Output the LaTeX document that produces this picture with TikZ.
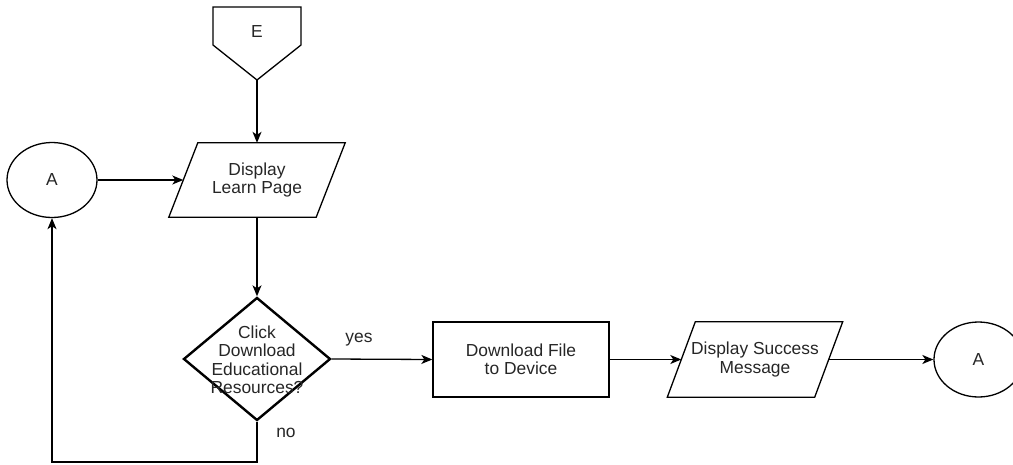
\documentclass[tikz,border=0pt]{standalone}
\usepackage{fontspec}
\setmainfont{Liberation Sans}
\usetikzlibrary{shapes.geometric,arrows.meta}
\begin{document}
\begin{tikzpicture}[x=1pt,y=-1pt,
  every node/.style={font=\fontsize{17.4}{18.5}\selectfont, text=black!85},
  line/.style={draw=black, line width=1.3pt},
  arr/.style={line, -{Stealth[length=11pt,width=9pt,inset=3pt]}},
  paratext/.style={rectangle, minimum width=147pt, minimum height=74pt, inner sep=0pt, align=center},
  procbox/.style={rectangle, draw, line width=1.3pt, minimum width=176pt, minimum height=75pt, inner sep=0pt},
  conn/.style={ellipse, draw, line width=1.3pt, minimum width=90pt, minimum height=75pt, inner sep=0pt},
  decide/.style={diamond, draw, line width=2.4pt, minimum width=147pt, minimum height=123pt, inner sep=0pt},
  lbl/.style={inner sep=0pt}
]
\useasboundingbox (0,0) rectangle (1013,464);

% off-page connector E
\node[lbl] (E) at (257,32) {E};
\draw[line, line join=miter] (213,7) -- (301,7) -- (301,45) -- (257,80) -- (213,45) -- cycle;
\coordinate (Etip) at (257,80);

% parallelogram 1
\node[paratext] (P1) at (257,180) {Display\\Learn Page};
\draw[line, line join=miter] ([xshift=-14.5pt]P1.south west) -- ([xshift=-14.5pt]P1.south east)
   -- ([xshift=14.5pt]P1.north east) -- ([xshift=14.5pt]P1.north west) -- cycle;

\node[conn] (A1) at (52,180) {A};
\node[decide] (D) at (257,359) {};
\node[align=center, lbl] (Dtxt) at (257,360) {Click\\Download\\Educational\\Resources?};
\node[procbox, align=center] (R) at (521,359.5) {Download File\\to Device};

% parallelogram 2
\node[paratext, minimum height=75pt] (P2) at (755,359.5) {Display Success\\Message};
\draw[line, line join=miter] ([xshift=-14pt]P2.south west) -- ([xshift=-14pt]P2.south east)
   -- ([xshift=14pt]P2.north east) -- ([xshift=14pt]P2.north west) -- cycle;

\node[conn, minimum width=89pt] (A2) at (978.5,359.5) {A};

\node[lbl] (yes) at (359,340) {yes};
\node[lbl] (no) at (286,433) {no};
\coordinate (c1) at (257,462);
\coordinate (c2) at (52,462);

% connectors
\draw[arr] (Etip) -- (P1.north);
\draw[arr] (A1) -- (P1.west);
\draw[arr] (P1.south) -- (D.north);
\draw[arr] (D.east) -- (R.west);
\draw[arr] (R.east) -- (P2.west);
\draw[arr] (P2.east) -- (A2);
\draw[arr] (D.south) -- (c1) -- (c2) -- (A1.south);
\end{tikzpicture}
\end{document}
